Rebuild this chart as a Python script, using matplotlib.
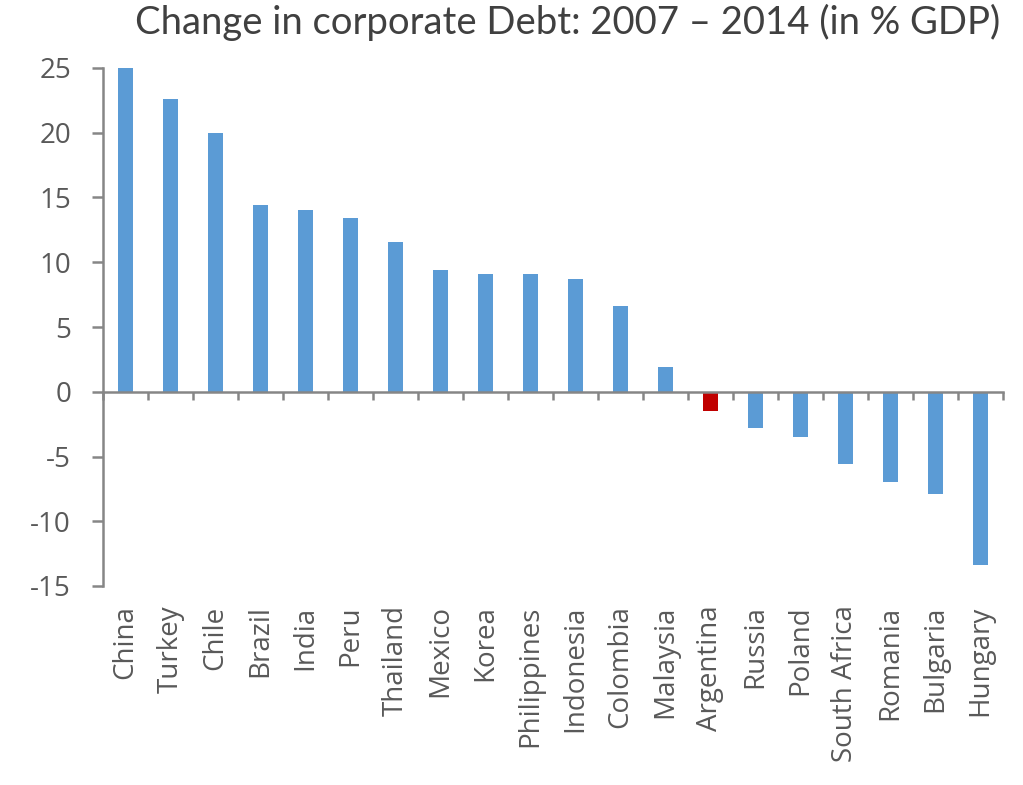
import matplotlib.pyplot as plt
import numpy as np

plt.rcParams['font.family'] = ['Open Sans', 'DejaVu Sans']
plt.rcParams['axes.unicode_minus'] = False

countries = ['China', 'Turkey', 'Chile', 'Brazil', 'India', 'Peru', 'Thailand',
             'Mexico', 'Korea', 'Philippines', 'Indonesia', 'Colombia', 'Malaysia',
             'Argentina', 'Russia', 'Poland', 'South Africa', 'Romania', 'Bulgaria',
             'Hungary']
change = [25.0, 22.6, 20.0, 14.4, 14.0, 13.4, 11.6, 9.4, 9.1, 9.1, 8.7, 6.6, 1.9,
          -1.5, -2.8, -3.5, -5.6, -7.0, -7.9, -13.4]
highlight = 'Argentina'

blue = '#5B9BD5'
red = '#C00000'
grey = '#868686'
text_grey = '#595959'

fig = plt.figure(figsize=(10.23, 7.85), dpi=100)
ax = fig.add_axes([103 / 1023, 199 / 785, 900 / 1023, 518 / 785])

x = np.arange(len(countries))
colors = [red if c == highlight else blue for c in countries]
ax.bar(x, change, width=0.35, color=colors, zorder=2)

ax.set_xlim(-0.5, len(countries) - 0.5)
ax.set_ylim(-15, 25)
ax.set_yticks(np.arange(-15, 26, 5))

for s in ['top', 'right']:
    ax.spines[s].set_visible(False)
for s in ['left', 'bottom']:
    ax.spines[s].set_color(grey)
    ax.spines[s].set_linewidth(1.8)
ax.spines['bottom'].set_position(('data', 0))
ax.spines['bottom'].set_zorder(3)

ax.tick_params(axis='y', direction='out', length=8, width=1.8, color=grey,
               labelsize=20, labelcolor=text_grey, pad=15)
ax.set_xticks(np.arange(len(countries) + 1) - 0.5)
ax.tick_params(axis='x', direction='out', length=6, width=1.8, color=grey,
               labelbottom=False)

# country names sit under the plot, not under the zero line
sec = ax.secondary_xaxis(0.0)
sec.set_xticks(x)
sec.set_xticklabels(countries, rotation=90, fontsize=20, color=text_grey)
sec.tick_params(length=0, pad=14)
sec.spines['bottom'].set_visible(False)

fig.text(0.978, 0.957, 'Change in corporate Debt: 2007 \u2013 2014 (in % GDP)',
         ha='right', va='baseline', fontsize=27.5, color='#404040', family='Lato')

fig.savefig('out.png', dpi=100)
